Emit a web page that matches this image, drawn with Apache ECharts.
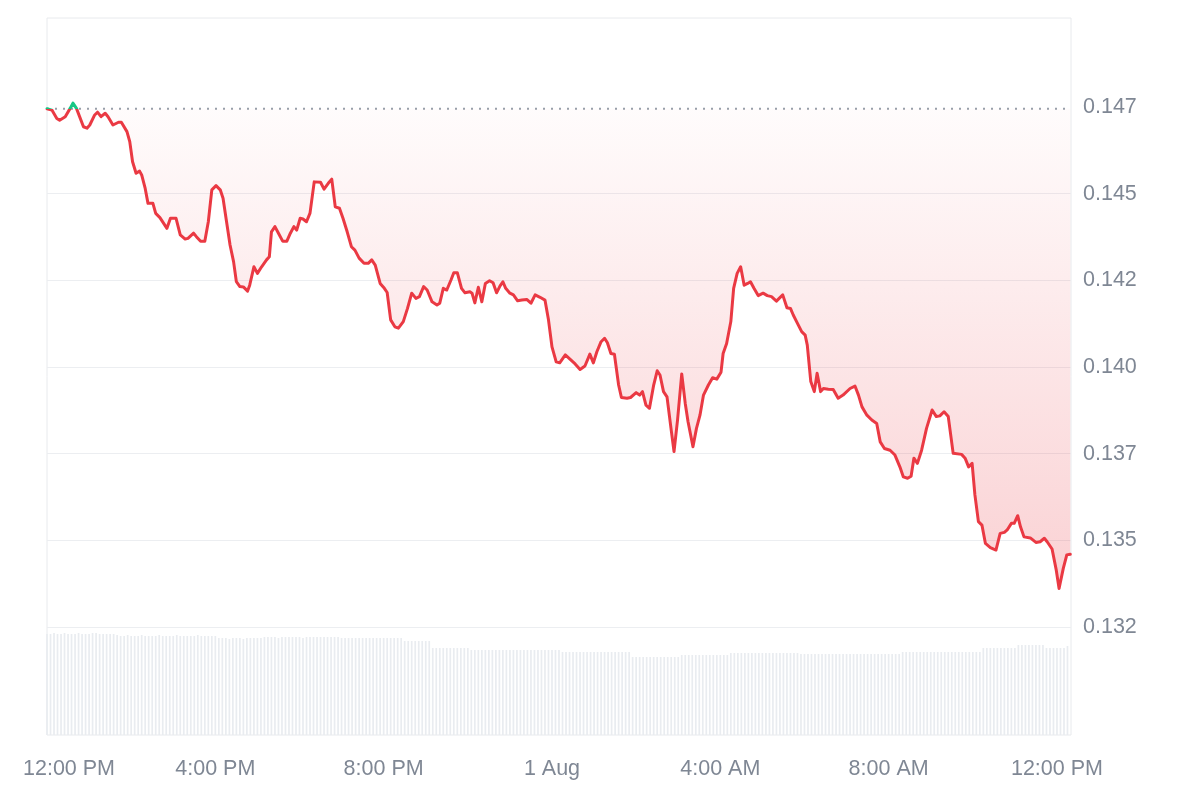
<!DOCTYPE html>
<html><head><meta charset="utf-8">
<script src="https://cdn.jsdelivr.net/npm/echarts@6/dist/echarts.min.js"></script>
<style>html,body{margin:0;padding:0;background:#fff}#c{width:1200px;height:800px}</style>
</head><body><div id="c"></div>
<script>
// minutes since 12:00 PM (31 Jul)
const priceTimes = [0,7,14,18,26,28,33,37,42,52,57,61,68,72,77,83,87,94,102,106,114,118,122,127,132,135,140,144,151,155,161,171,176,184,190,197,201,209,213,219,225,230,235,241,247,251,256,261,266,270,275,280,286,289,295,300,306,313,317,320,325,330,336,342,347,352,356,361,365,370,375,381,390,395,401,406,411,417,422,428,434,439,445,452,458,463,468,475,481,485,490,496,501,508,514,520,526,531,537,542,549,556,560,565,570,576,580,585,591,596,603,606,610,615,620,625,631,636,641,646,650,654,660,665,671,677,684,690,696,703,710,715,720,726,731,739,746,753,760,767,774,779,784,790,795,799,804,809,815,819,827,832,840,845,849,854,859,865,870,874,879,884,890,894,899,905,910,914,921,926,931,936,943,949,955,961,964,969,975,979,984,989,994,999,1003,1008,1014,1021,1027,1033,1040,1045,1049,1055,1060,1064,1070,1076,1081,1084,1089,1094,1098,1103,1107,1114,1121,1128,1135,1145,1152,1157,1162,1169,1176,1183,1188,1194,1202,1209,1216,1221,1227,1232,1236,1241,1247,1254,1262,1268,1273,1279,1285,1292,1304,1309,1314,1319,1323,1328,1333,1338,1345,1353,1359,1365,1369,1375,1379,1384,1388,1393,1402,1410,1416,1422,1426,1433,1439,1443,1449,1454,1459];
const prices = [0.14695,0.14691,0.14667,0.14662,0.14672,0.14677,0.14696,0.14711,0.14696,0.14643,0.14639,0.14648,0.14677,0.14685,0.14672,0.14682,0.14672,0.14648,0.14656,0.14656,0.14629,0.14600,0.14542,0.14509,0.14515,0.14504,0.14465,0.14422,0.14422,0.14393,0.14381,0.14350,0.14379,0.14379,0.14331,0.14319,0.14321,0.14336,0.14326,0.14313,0.14313,0.14369,0.14461,0.14473,0.14461,0.14437,0.14369,0.14302,0.14254,0.14196,0.14182,0.14181,0.14169,0.14186,0.14239,0.14220,0.14239,0.14259,0.14268,0.14340,0.14355,0.14336,0.14313,0.14313,0.14336,0.14355,0.14345,0.14379,0.14377,0.14369,0.14394,0.14484,0.14483,0.14463,0.14480,0.14492,0.14412,0.14408,0.14379,0.14340,0.14297,0.14287,0.14264,0.14249,0.14249,0.14259,0.14244,0.14191,0.14177,0.14165,0.14086,0.14066,0.14062,0.14081,0.14119,0.14163,0.14148,0.14153,0.14182,0.14172,0.14138,0.14129,0.14134,0.14177,0.14172,0.14201,0.14222,0.14222,0.14177,0.14164,0.14167,0.14163,0.14135,0.14180,0.14138,0.14191,0.14199,0.14193,0.14164,0.14184,0.14196,0.14177,0.14163,0.14158,0.14141,0.14143,0.14145,0.14134,0.14158,0.14151,0.14143,0.14086,0.14008,0.13965,0.13962,0.13985,0.13972,0.13959,0.13943,0.13953,0.13987,0.13962,0.13994,0.14023,0.14033,0.14020,0.13989,0.13987,0.13898,0.13862,0.13860,0.13862,0.13876,0.13869,0.13879,0.13840,0.13831,0.13898,0.13939,0.13927,0.13879,0.13864,0.13768,0.13706,0.13797,0.13930,0.13845,0.13792,0.13720,0.13773,0.13811,0.13869,0.13898,0.13919,0.13915,0.13935,0.13989,0.14018,0.14081,0.14177,0.14220,0.14239,0.14186,0.14191,0.14196,0.14177,0.14156,0.14163,0.14156,0.14153,0.14140,0.14150,0.14158,0.14121,0.14119,0.14100,0.14076,0.14052,0.14042,0.14013,0.13908,0.13879,0.13932,0.13879,0.13888,0.13886,0.13885,0.13860,0.13869,0.13888,0.13895,0.13869,0.13835,0.13811,0.13797,0.13787,0.13734,0.13715,0.13710,0.13696,0.13662,0.13633,0.13629,0.13635,0.13687,0.13672,0.13710,0.13773,0.13826,0.13807,0.13809,0.13821,0.13807,0.13701,0.13698,0.13687,0.13662,0.13672,0.13581,0.13504,0.13494,0.13441,0.13429,0.13422,0.13470,0.13473,0.13480,0.13499,0.13499,0.13521,0.13489,0.13460,0.13457,0.13444,0.13446,0.13456,0.13446,0.13425,0.13364,0.13311,0.13369,0.13408,0.13410];
// volume bars, one every 5 minutes (relative units)
const volumes = [
101,101,102,101,101,102,101,101,101,102,101,101,101,102,102,101,101,101,101,101,
100,99,99,100,99,99,99,100,99,99,99,99,100,99,99,99,99,100,99,99,
99,99,99,100,99,99,99,99,99,97,97,97,96,97,97,97,96,97,97,97,
97,97,98,98,98,98,97,98,98,98,98,98,98,97,98,98,98,98,98,98,
98,98,98,98,97,97,97,97,97,97,97,97,97,97,97,97,97,97,97,97,
97,97,94,94,94,94,94,94,94,94,87,87,87,87,87,87,87,87,87,87,
87,85,85,85,85,85,85,85,85,85,85,85,85,85,85,85,85,85,85,85,
85,85,85,85,85,85,85,83,83,83,83,83,83,83,83,83,83,83,83,83,
83,83,83,83,83,83,83,78,78,78,78,78,78,78,78,78,78,78,78,78,
78,80,80,80,80,80,80,80,80,80,80,80,80,80,80,82,82,82,82,82,
82,82,82,82,82,82,82,82,82,82,82,82,82,82,82,81,81,81,81,81,
81,81,81,81,81,81,81,81,81,81,81,81,81,81,81,81,81,81,81,81,
81,81,81,81,83,83,83,83,83,83,83,83,83,83,83,83,83,83,83,83,
83,83,83,83,83,83,83,87,87,87,87,87,87,87,87,87,87,90,90,90,
90,90,90,90,90,87,87,87,87,87,87,89];
const xTickValues = [0,240,480,720,960,1200,1440];
const xTickLabels = ['12:00 PM','4:00 PM','8:00 PM','1 Aug','4:00 AM','8:00 AM','12:00 PM'];
const yTickValues = [0.132,0.1345,0.137,0.1395,0.142,0.1445,0.147];
const yTickLabels = ['0.132','0.135','0.137','0.140','0.142','0.145','0.147'];
const yGridValues = [0.132,0.1345,0.137,0.1395,0.142,0.1445];

const FONT = '"Liberation Sans", Arial, Helvetica, sans-serif';
const LABEL_COLOR = '#7f8794';
const baseline = prices[0];
const priceData = priceTimes.map((t, i) => [t, prices[i]]);
const baselineData = [[0, baseline], [1460, baseline]];
const volData = volumes.map((v, i) => [i * 5, v]);

function nearIdx(arr, v, eps) {
  for (let i = 0; i < arr.length; i++) if (Math.abs(arr[i] - v) < eps) return i;
  return -1;
}

const chart = echarts.init(document.getElementById('c'));
chart.setOption({
  animation: false,
  backgroundColor: '#ffffff',
  textStyle: { fontFamily: FONT },
  grid: [
    { left: 47, right: 129, top: 18, bottom: 65, show: true, borderColor: '#e8eaed', borderWidth: 1, backgroundColor: 'transparent' },
    { left: 47, right: 129, top: 625, bottom: 65 }
  ],
  xAxis: [
    {
      type: 'value', gridIndex: 0, min: 0, max: 1460,
      axisLine: { show: false }, axisTick: { show: false }, splitLine: { show: false },
      axisLabel: {
        customValues: xTickValues,
        color: LABEL_COLOR, fontSize: 21.5, fontFamily: FONT, margin: 23,
        formatter: function (v) {
          const i = nearIdx(xTickValues, v, 0.5);
          if (i < 0) return '';
          return i === 0 ? '{first|' + xTickLabels[i] + '}' : xTickLabels[i];
        },
        rich: { first: { padding: [0, 0, 0, 44], color: LABEL_COLOR, fontSize: 21.5, fontFamily: FONT } }
      }
    },
    { type: 'value', gridIndex: 1, min: 0, max: 1460, show: false }
  ],
  yAxis: [
    {
      type: 'value', gridIndex: 0, position: 'right', min: 0.128885, max: 0.149567,
      axisLine: { show: false },
      axisTick: { show: false, customValues: yGridValues },
      splitLine: { show: true, lineStyle: { color: '#eceef1', width: 1 } },
      axisLabel: {
        customValues: yTickValues,
        color: LABEL_COLOR, fontSize: 21.5, fontFamily: FONT, margin: 12,
        padding: [6, 0, 0, 0],
        formatter: function (v) {
          const i = nearIdx(yTickValues, v, 0.00001);
          return i < 0 ? '' : yTickLabels[i];
        }
      }
    },
    { type: 'value', gridIndex: 1, min: 0, max: 110, show: false }
  ],
  visualMap: {
    show: false, type: 'piecewise', seriesIndex: 0, dimension: 1,
    pieces: [{ gt: baseline, lte: 1, color: '#16c784' }, { gt: 0, lte: baseline, color: '#ea3943' }]
  },
  series: [
    {
      type: 'line', xAxisIndex: 0, yAxisIndex: 0, data: priceData,
      symbol: 'none', showSymbol: false, z: 4,
      lineStyle: { width: 3, join: 'round', cap: 'round' },
      areaStyle: {
        origin: baseline,
        color: { type: 'linear', x: 0, y: 0, x2: 0, y2: 1, colorStops: [
          { offset: 0, color: 'rgba(234,57,67,0.02)' },
          { offset: 1, color: 'rgba(234,57,67,0.33)' }
        ] }
      }
    },
    {
      type: 'line', xAxisIndex: 0, yAxisIndex: 0, data: baselineData,
      symbol: 'none', showSymbol: false, silent: true, z: 3,
      lineStyle: { color: '#98a0aa', type: [2, 6], width: 2 }
    },
    {
      type: 'bar', xAxisIndex: 1, yAxisIndex: 1, data: volData, barWidth: 1.7,
      silent: true, z: 1, itemStyle: { color: '#e9ecf0' }
    }
  ]
});
</script>
</body></html>
